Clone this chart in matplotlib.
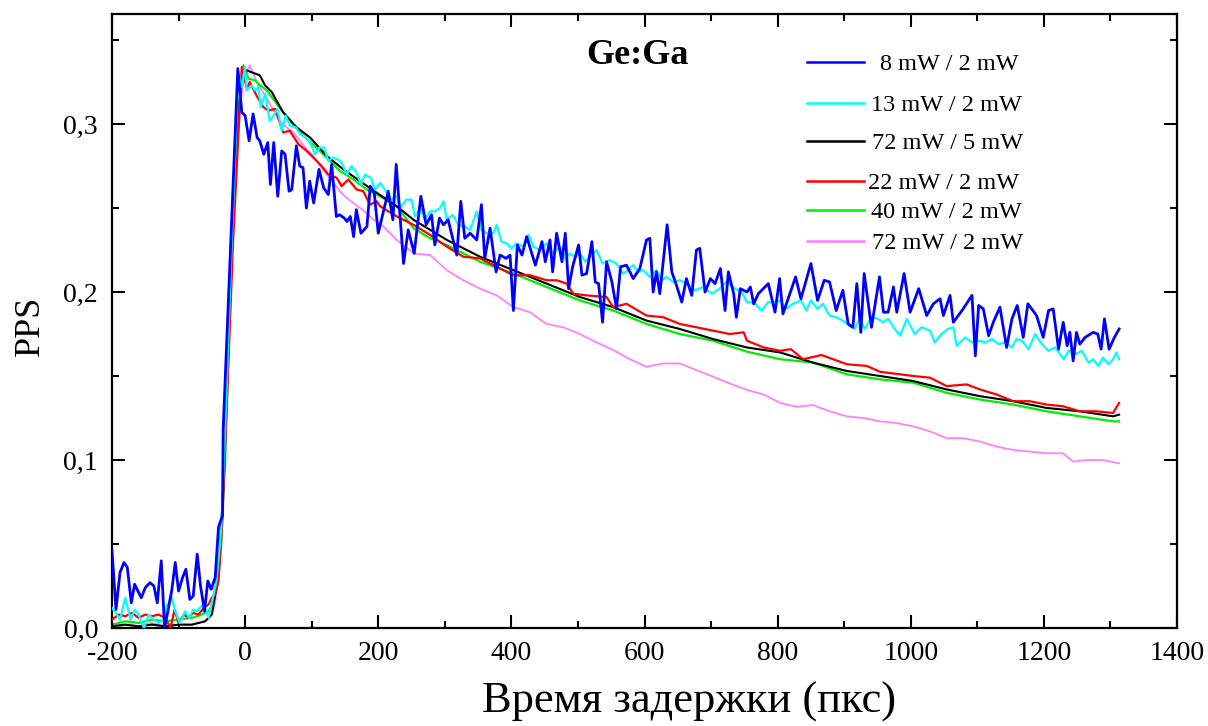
import matplotlib
matplotlib.use("Agg")
import matplotlib.pyplot as plt
from matplotlib.lines import Line2D
from matplotlib.ticker import MultipleLocator

plt.rcParams['font.family'] = ['Liberation Serif', 'DejaVu Serif']
plt.rcParams['axes.unicode_minus'] = False

# --- data (delay in ps, PPS) ---
blue_x = [-200, -194, -188, -182, -177, -171, -166, -161, -156, -150, -143, -137, -132, -126,
          -121, -116, -110, -105, -100, -94, -89, -83, -78, -72, -67, -61, -56, -51, -45, -40,
          -34, -33, -21.5, -11, -5, 0, 6, 12, 18, 22, 28, 34, 38, 43, 49, 55, 60, 66, 70, 77,
          82, 87, 92, 97, 103, 111, 118, 125, 130, 137, 142, 149, 153, 158, 163, 167, 174,
          183, 188, 194, 200,
          203, 215, 222, 227, 238, 245, 254, 264, 272, 280, 285, 292, 298, 305, 318, 324, 330,
          338, 348, 355, 360, 368, 377, 383, 392, 398, 403, 409, 416, 423, 436, 446, 451, 458,
          462, 468, 476, 481, 486, 492, 501, 506, 513, 521, 526, 531, 537, 543, 551, 558, 564,
          573, 583, 593, 603, 608, 613, 618, 623, 634, 641, 648, 656, 663, 671, 678, 683, 691,
          699, 706, 714, 721, 726, 734, 738, 744, 754, 759, 764, 771, 786, 796,
          803, 808, 827, 835, 850, 860, 870, 878, 888, 898, 906, 913, 919, 925, 930, 941, 953,
          959, 966, 974, 979, 990, 999, 1012, 1024, 1034, 1044, 1049, 1059, 1064, 1077, 1092,
          1097, 1102, 1109, 1117, 1124, 1134, 1144, 1152, 1160, 1169, 1176, 1189, 1199, 1207,
          1214, 1222, 1229, 1235, 1239, 1244, 1249, 1254, 1262, 1274, 1281, 1286, 1291, 1298,
          1306, 1313]
blue_y = [0.046, 0.011, 0.033, 0.039, 0.036, 0.015, 0.026, 0.022, 0.018, 0.024, 0.027, 0.025,
          0.015, 0.040, 0.000, 0.010, 0.023, 0.039, 0.022, 0.030, 0.035, 0.017, 0.019, 0.044,
          0.025, 0.010, 0.028, 0.023, 0.030, 0.060, 0.067, 0.118, 0.231, 0.333, 0.307, 0.305,
          0.290, 0.306, 0.292, 0.290, 0.282, 0.289, 0.264, 0.289, 0.257, 0.284, 0.282, 0.260,
          0.261, 0.287, 0.275, 0.274, 0.250, 0.266, 0.253, 0.273, 0.262, 0.258, 0.276, 0.245,
          0.246, 0.244, 0.242, 0.245, 0.233, 0.249, 0.235, 0.239, 0.263, 0.259, 0.235,
          0.240, 0.260, 0.243, 0.276, 0.217, 0.237, 0.223, 0.257, 0.240, 0.246, 0.228, 0.244,
          0.240, 0.243, 0.222, 0.254, 0.232, 0.235, 0.231, 0.252, 0.220, 0.238, 0.212, 0.222,
          0.220, 0.222, 0.189, 0.228, 0.222, 0.233, 0.216, 0.230, 0.218, 0.231, 0.212, 0.235,
          0.218, 0.235, 0.202, 0.215, 0.228, 0.210, 0.211, 0.230, 0.206, 0.205, 0.182, 0.218,
          0.206, 0.190, 0.215, 0.216, 0.208, 0.214, 0.231, 0.232, 0.200, 0.212, 0.199, 0.240,
          0.212, 0.204, 0.194, 0.208, 0.198, 0.225, 0.226, 0.200, 0.208, 0.205, 0.214, 0.189,
          0.212, 0.199, 0.185, 0.202, 0.200, 0.203, 0.193, 0.199, 0.205, 0.188,
          0.208, 0.187, 0.209, 0.196, 0.217, 0.195, 0.207, 0.206, 0.189, 0.201, 0.181, 0.179,
          0.205, 0.176, 0.211, 0.179, 0.209, 0.188, 0.188, 0.203, 0.188, 0.211, 0.188, 0.202,
          0.186, 0.193, 0.196, 0.186, 0.198, 0.182, 0.189, 0.198, 0.162, 0.192, 0.190, 0.174,
          0.182, 0.191, 0.167, 0.184, 0.192, 0.173, 0.193, 0.186, 0.173, 0.189, 0.190, 0.166,
          0.182, 0.168, 0.176, 0.159, 0.176, 0.169, 0.173, 0.176, 0.175, 0.166, 0.184, 0.166,
          0.173, 0.178]

cyan_x = [-200, -196, -188, -180, -172, -166, -160, -152, -145, -140, -130, -122, -118, -110,
          -105, -98, -90, -84, -78, -72, -66, -60, -55, -50, -43, -36, -30, -20, -10, -5, 0,
          2.5, 10, 15, 20, 23.5, 30, 37, 43, 48.5, 55, 61, 67.5, 76.5, 82.5, 91.5, 97.5, 105,
          111.6, 118.5, 125, 131.6, 139, 145, 152.6, 160, 167.7, 174, 180, 189, 195,
          203, 213, 220, 228, 233, 242, 250, 255, 263, 270, 278, 285, 293, 298, 303, 312, 320,
          330, 338, 348, 355, 363, 373, 378, 385, 393, 400, 408, 418, 426, 433, 443, 453, 463,
          473, 481, 488, 496, 503, 511, 521, 528, 537, 548, 558, 568, 576, 583, 591, 598, 608,
          618, 626, 633, 643, 653, 663, 676, 688, 701, 713, 723, 736, 746, 754, 764, 776, 786,
          799, 803, 813, 823, 835, 843, 850, 860, 868, 878, 888, 898, 908, 916, 923, 931, 941,
          951, 958, 966, 976, 984, 994, 1006, 1016, 1029, 1036, 1046, 1056, 1064, 1069, 1082,
          1092, 1102, 1112, 1122, 1132, 1142, 1152, 1159, 1167, 1177, 1187, 1197, 1207, 1217,
          1230, 1237, 1247, 1257, 1267, 1274, 1282, 1289, 1297, 1304, 1309, 1313]
cyan_y = [0.012, 0.010, 0.005, 0.018, 0.005, 0.011, 0.008, 0.000, 0.008, 0.006, 0.003, 0.005,
          0.013, 0.018, 0.010, 0.003, 0.010, 0.006, 0.011, 0.010, 0.013, 0.012, 0.006, 0.015,
          0.028, 0.058, 0.118, 0.231, 0.330, 0.322, 0.334, 0.320, 0.323, 0.320, 0.322, 0.310,
          0.318, 0.302, 0.305, 0.309, 0.296, 0.305, 0.299, 0.298, 0.294, 0.292, 0.289, 0.282,
          0.286, 0.286, 0.278, 0.280, 0.279, 0.277, 0.270, 0.275, 0.271, 0.264, 0.270, 0.268,
          0.261,
          0.265, 0.259, 0.255, 0.257, 0.250, 0.255, 0.255, 0.245, 0.250, 0.243, 0.248, 0.248,
          0.250, 0.254, 0.243, 0.246, 0.240, 0.239, 0.237, 0.248, 0.237, 0.235, 0.235, 0.240,
          0.230, 0.229, 0.226, 0.229, 0.227, 0.234, 0.227, 0.225, 0.229, 0.223, 0.227, 0.220,
          0.223, 0.221, 0.223, 0.218, 0.222, 0.225, 0.217, 0.219, 0.217, 0.211, 0.213, 0.216,
          0.212, 0.213, 0.209, 0.213, 0.207, 0.209, 0.206, 0.207, 0.205, 0.201, 0.203, 0.199,
          0.202, 0.206, 0.202, 0.200, 0.194, 0.194, 0.189, 0.194, 0.194, 0.195, 0.190, 0.193,
          0.195, 0.189, 0.195, 0.190, 0.193, 0.186, 0.185, 0.183, 0.180, 0.178, 0.184, 0.178,
          0.185, 0.184, 0.182, 0.184, 0.178, 0.174, 0.184, 0.175, 0.179, 0.177, 0.170, 0.175,
          0.178, 0.179, 0.168, 0.173, 0.170, 0.171, 0.170, 0.172, 0.169, 0.170, 0.167, 0.172,
          0.171, 0.166, 0.175, 0.169, 0.165, 0.167, 0.160, 0.165, 0.163, 0.165, 0.158, 0.160,
          0.156, 0.161, 0.157, 0.160, 0.164, 0.160]

black_x = [-200, -180, -160, -140, -120, -100, -80, -60, -50, -45, -38, -32, -26, -18, -10,
           -5, 2, 22, 30, 40, 57, 77.5, 97.5, 122.6, 147.6, 172.6, 198, 228, 253, 303, 353,
           403, 453, 503, 553, 603, 653, 703, 754, 804, 853, 904, 954, 1004, 1054, 1104, 1154,
           1204, 1254, 1304, 1313]
black_y = [0.001, 0.002, 0.001, 0.002, 0.001, 0.002, 0.002, 0.004, 0.008, 0.02, 0.045, 0.09,
           0.16, 0.25, 0.31, 0.325, 0.332, 0.329, 0.323, 0.319, 0.307, 0.298, 0.292, 0.281,
           0.273, 0.266, 0.259, 0.251, 0.243, 0.231, 0.221, 0.213, 0.205, 0.197, 0.191, 0.183,
           0.178, 0.172, 0.167, 0.164, 0.158, 0.153, 0.150, 0.147, 0.142, 0.138, 0.135, 0.131,
           0.129, 0.126, 0.127]

red_x = [-200, -190, -180, -170, -160, -150, -140, -130, -120, -112, -106, -100, -92, -85,
         -78, -70, -62, -55, -50, -45, -40, -35, -29, -18, -5, 2.5, 7, 17, 27.5, 35, 45, 57,
         67, 80, 92.5, 105, 115, 125, 137.6, 145, 155, 167.7, 177.6, 187.6, 197.6, 203, 228,
         253, 278, 303, 328, 353, 378, 403, 428, 453, 468, 483, 493, 513, 543, 553, 573, 603,
         628, 653, 678, 703, 728, 749, 754, 779, 804, 820, 838, 866, 904, 934, 954, 1004,
         1029, 1054, 1084, 1104, 1129, 1154, 1179, 1204, 1229, 1254, 1279, 1304, 1313]
red_y = [0.005, 0.008, 0.007, 0.009, 0.006, 0.008, 0.007, 0.008, 0.006, 0.000, 0.011, 0.003,
         0.008, 0.006, 0.009, 0.008, 0.012, 0.014, 0.018, 0.020, 0.028, 0.058, 0.118, 0.231,
         0.334, 0.321, 0.325, 0.317, 0.310, 0.308, 0.309, 0.295, 0.296, 0.288, 0.284, 0.279,
         0.275, 0.270, 0.268, 0.263, 0.267, 0.261, 0.260, 0.252, 0.254, 0.251, 0.245, 0.240,
         0.234, 0.227, 0.221, 0.220, 0.215, 0.210, 0.210, 0.207, 0.207, 0.205, 0.199, 0.198,
         0.197, 0.191, 0.193, 0.186, 0.185, 0.181, 0.179, 0.177, 0.175, 0.176, 0.171, 0.167,
         0.165, 0.166, 0.160, 0.1625, 0.157, 0.156, 0.1525, 0.150, 0.149, 0.144, 0.145, 0.142,
         0.139, 0.135, 0.135, 0.133, 0.132, 0.129, 0.129, 0.128, 0.134]

green_x = [-200, -180, -160, -140, -120, -100, -80, -65, -55, -48, -42, -36, -30, -24, -17,
           -10, -2.5, 5, 15, 22.5, 32.5, 47.5, 67.5, 82.5, 102.6, 122.6, 142.6, 162.6, 182.7,
           202.7, 227.8, 253, 278, 303, 353, 403, 453, 503, 553, 603, 653, 703, 754, 804, 853,
           904, 954, 1004, 1054, 1104, 1154, 1204, 1254, 1304, 1313]
green_y = [0.002, 0.004, 0.003, 0.005, 0.004, 0.005, 0.006, 0.008, 0.010, 0.014, 0.025, 0.050,
           0.100, 0.180, 0.250, 0.310, 0.335, 0.327, 0.326, 0.323, 0.320, 0.312, 0.302, 0.295,
           0.2875, 0.280, 0.272, 0.267, 0.261, 0.257, 0.251, 0.238, 0.232, 0.228, 0.218, 0.211,
           0.203, 0.195, 0.189, 0.181, 0.175, 0.171, 0.1645, 0.160, 0.158, 0.151, 0.148, 0.146,
           0.140, 0.136, 0.133, 0.129, 0.126, 0.123, 0.123]

pink_x = [-200, -180, -160, -140, -120, -100, -80, -60, -50, -45, -38, -32, -26, -18, -10, -3,
          7, 12, 20, 30, 40, 52, 62.5, 72.5, 82.5, 92.5, 102.6, 112.6, 122.6, 132.5, 142.6,
          152.6, 162.6, 172.6, 182.7, 192.6, 202.7, 228, 253, 278, 303, 328, 353, 378, 403,
          428, 453, 478, 503, 528, 553, 578, 603, 628, 653, 678, 703, 728, 754, 779, 804, 828,
          853, 878, 904, 929, 954, 979, 1004, 1029, 1054, 1079, 1104, 1129, 1154, 1179, 1204,
          1229, 1244, 1264, 1289, 1313]
pink_y = [0.001, 0.002, 0.001, 0.003, 0.001, 0.002, 0.002, 0.004, 0.008, 0.015, 0.040, 0.085,
          0.150, 0.240, 0.300, 0.325, 0.335, 0.330, 0.323, 0.317, 0.310, 0.302, 0.298, 0.295,
          0.290, 0.285, 0.281, 0.275, 0.270, 0.265, 0.260, 0.256, 0.253, 0.250, 0.247, 0.243,
          0.241, 0.231, 0.223, 0.222, 0.213, 0.207, 0.202, 0.198, 0.191, 0.188, 0.181, 0.179,
          0.175, 0.170, 0.1655, 0.160, 0.1555, 0.1575, 0.1575, 0.1535, 0.1496, 0.1456, 0.1417,
          0.139, 0.134, 0.1317, 0.1327, 0.129, 0.126, 0.125, 0.123, 0.122, 0.120, 0.117, 0.113,
          0.113, 0.111, 0.108, 0.106, 0.105, 0.104, 0.104, 0.099, 0.100, 0.100, 0.098]

labels = ['8 mW / 2 mW', '13 mW / 2 mW', '72 mW / 5 mW',
          '22 mW / 2 mW', '40 mW / 2 mW', '72 mW / 2 mW']
colors = ['#0000ff', '#00ffff', '#000000', '#ff0000', '#00ee00', '#ff80ff']

xticks = [-200, 0, 200, 400, 600, 800, 1000, 1200, 1400]
yticks = [0.0, 0.1, 0.2, 0.3]
ytick_labels = ['0,0', '0,1', '0,2', '0,3']

W, H = 1208, 726
fig = plt.figure(figsize=(W / 100, H / 100), dpi=100)
ax = fig.add_axes([112 / W, 1 - 628 / H, (1177 - 112) / W, (628 - 14) / H])

series = [(blue_x, blue_y), (cyan_x, cyan_y), (black_x, black_y),
          (red_x, red_y), (green_x, green_y), (pink_x, pink_y)]
widths = [2.0, 1.6, 1.5, 1.6, 1.6, 1.3]
zorders = [6, 5, 3, 4, 2, 1]
for (xs, ys), c, lw, z in zip(series, colors, widths, zorders):
    ax.plot(xs, ys, color=c, lw=lw, zorder=z)

ax.set_xlim(-200, 1400)
ax.set_ylim(0, 0.3655)
ax.set_xticks(xticks)
ax.set_yticks(yticks)
ax.set_yticklabels(ytick_labels)
ax.xaxis.set_minor_locator(MultipleLocator(100))
ax.yaxis.set_minor_locator(MultipleLocator(0.05))
ax.tick_params(which='both', direction='in', top=True, right=True, width=1.5,
               labelsize=20)
ax.tick_params(which='major', length=9.5)
ax.tick_params(which='minor', length=5)
ax.tick_params(axis='x', pad=9)
ax.tick_params(axis='y', pad=10)
for s in ax.spines.values():
    s.set_linewidth(1.6)

fig.text(689 / W, 1 - 702 / H, 'Время задержки (пкс)', ha='center', va='center', fontsize=32)
fig.text(30 / W, 1 - 326 / H, 'PPS', ha='center', va='center', rotation=90, fontsize=26)
fig.text(638 / W, 1 - 55 / H, 'Ge:Ga', ha='center', va='center', fontsize=26,
         fontweight='bold')

# hand-placed legend, as in the original
leg_rows = [62, 103, 141, 181, 210, 241]
leg_text_x = [880, 871, 872, 868, 871, 872]
for lab, c, yy, tx in zip(labels, colors, leg_rows, leg_text_x):
    fig.add_artist(Line2D([807 / W, 864 / W], [1 - yy / H, 1 - yy / H], color=c, lw=1.8))
    fig.text(tx / W, 1 - yy / H, lab, ha='left', va='center_baseline', fontsize=17.5)

fig.savefig('out.png', dpi=100)
